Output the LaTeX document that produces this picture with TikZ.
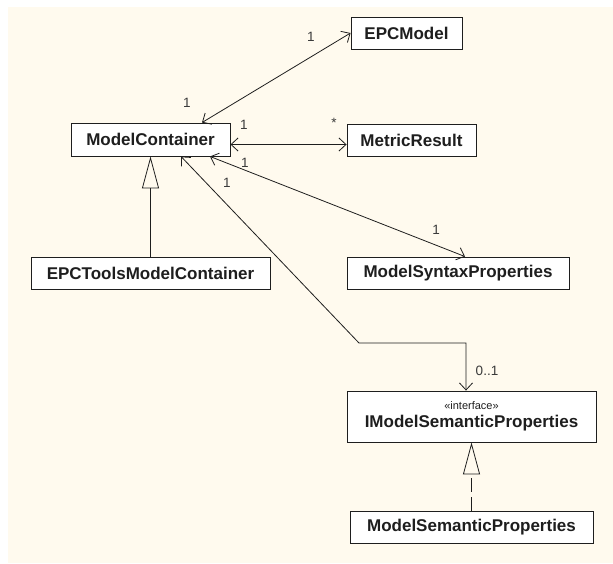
\documentclass[tikz,border=0pt]{standalone}
\usepackage{fontspec}
\setmainfont{Liberation Sans}
\usetikzlibrary{arrows.meta,calc}
\definecolor{cream}{HTML}{FFFAEE}
\definecolor{ink}{HTML}{1E1E1E}
\definecolor{lbl}{HTML}{3A3A3A}
\tikzset{
  cls/.style={draw=ink, line width=0.9pt, fill=white, inner sep=0pt, align=center,
    font=\fontsize{17}{19}\selectfont\bfseries, text=ink},
  mult/.style={inner sep=0pt, font=\fontsize{13.5}{15}\selectfont, text=lbl},
  assoc/.style={draw=ink, line width=0.8pt, {Straight Barb[length=7pt,width=13pt]}-{Straight Barb[length=7pt,width=13pt]}},
  gen/.style={draw=ink, line width=0.8pt, -{Triangle[open, length=32pt, width=17pt, line width=0.8pt]}},
  real/.style={gen, dash pattern=on 14pt off 5pt},
}
\begin{document}
\begin{tikzpicture}[x=1pt,y=-1pt]
\useasboundingbox (0,0) rectangle (613,563);
\fill[white] (0,0) rectangle (613,563);
\fill[cream] (8,7) rectangle (613,563);

\node[cls, minimum width=111pt, minimum height=32pt] (epc) at (406.5,33) {EPCModel};
\node[cls, minimum width=159pt, minimum height=33pt] (mc) at (150.5,139.5) {ModelContainer};
\node[cls, minimum width=129pt, minimum height=32pt] (mr) at (411.5,140) {MetricResult};
\node[cls, minimum width=239pt, minimum height=32pt] (etmc) at (150.5,273) {EPCToolsModelContainer};
\node[cls, minimum width=222pt, minimum height=32pt] (msp) at (458,273) {ModelSyntaxProperties};
\node[cls, minimum width=249pt, minimum height=51pt] (imsp) at (471.5,416.5)
  {{\fontsize{11}{12}\selectfont\mdseries «interface»}\\[-1pt]IModelSemanticProperties};
\node[cls, minimum width=243pt, minimum height=32pt] (msem) at (471.5,527) {ModelSemanticProperties};

% associations
\draw[assoc] ($(mc.north)+(51.5,0)$) -- (epc.west);
\draw[assoc] ($(mc.east)+(0,5)$) -- ($(mr.west)+(0,4.5)$);
\draw[assoc] ($(mc.south)+(59.5,0)$) -- ($(msp.north)+(7,0)$);
\coordinate (bend1) at (359,343);
\coordinate (bend2) at (466,343);
\draw[assoc] ($(mc.south)+(30.5,0)$) -- (bend1) -- (bend2) -- ($(imsp.north)+(-5.5,0)$);

% generalization / realization
\draw[gen] (etmc.north) -- (mc.south);
\draw[real] (msem.north) -- (imsp.south);

% multiplicities
\node[mult] (m1) at (311,37) {1};
\node[mult] (m2) at (187,103) {1};
\node[mult] (m3) at (244,125) {1};
\node[mult] (m4) at (334,123) {*};
\node[mult] (m5) at (245,163) {1};
\node[mult] (m6) at (227,183) {1};
\node[mult] (m7) at (436,230) {1};
\node[mult] (m8) at (487,371) {0..1};
\end{tikzpicture}
\end{document}
